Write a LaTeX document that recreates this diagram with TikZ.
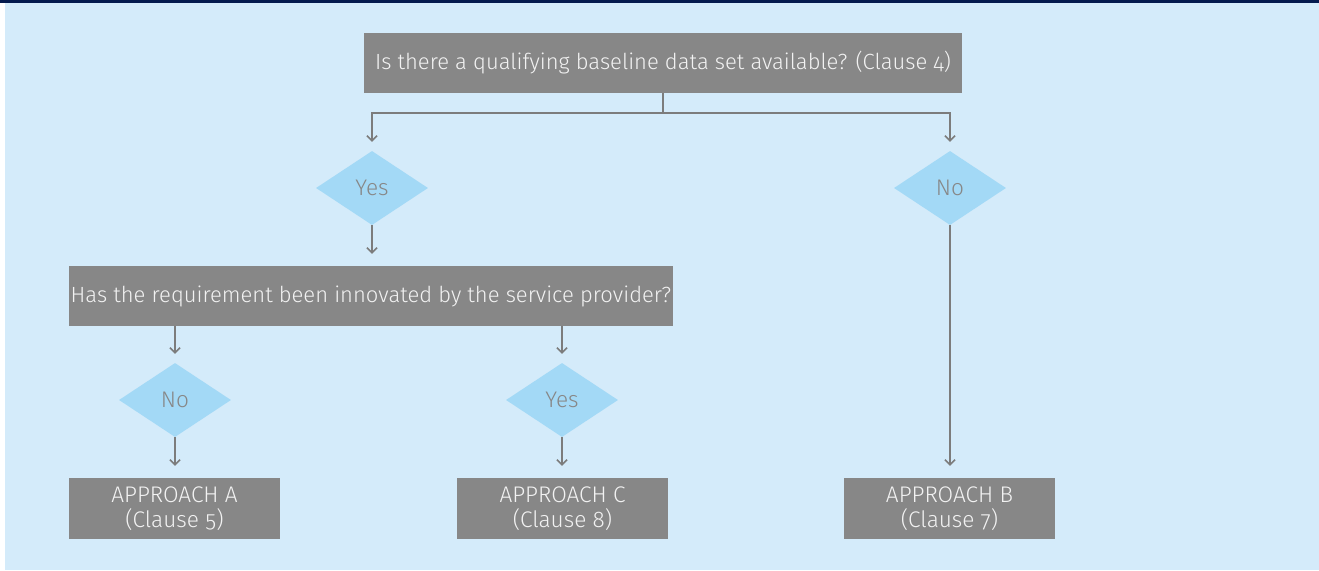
\documentclass[tikz,border=0pt]{standalone}
\usepackage{fontspec}
\setmainfont{Fira Sans Light}[Numbers=OldStyle]
\usetikzlibrary{shapes.geometric,arrows.meta}
\definecolor{navy}{HTML}{031A4E}
\definecolor{panel}{HTML}{D4EBFA}
\definecolor{boxgrey}{HTML}{878787}
\definecolor{decision}{HTML}{A3D9F6}
\definecolor{linegrey}{HTML}{7C7C7C}
\definecolor{boxtext}{HTML}{F2F2F2}
\tikzset{
  question/.style={fill=boxgrey, text=boxtext, minimum height=60pt, inner sep=0pt,
    font=\fontsize{22}{26}\selectfont},
  outcome/.style={fill=boxgrey, text=boxtext, minimum width=211pt, minimum height=61pt,
    inner sep=0pt, align=center, font=\fontsize{22.6}{25}\selectfont},
  choice/.style={diamond, fill=decision, text=boxgrey, minimum width=112pt,
    minimum height=74pt, inner sep=0pt, font=\fontsize{22.6}{26}\selectfont},
  flow/.style={draw=linegrey, line width=2pt,
    -{Straight Barb[length=5pt,width=10pt,line width=1.6pt]}},
  toshape/.style={flow, shorten >=9pt},
  tobox/.style={flow, shorten >=12pt},
}
\begin{document}
\begin{tikzpicture}[x=1pt,y=-1pt]
\useasboundingbox (0,0) rectangle (1319,570);
\fill[white] (0,0) rectangle (1319,570);
\fill[panel] (5,0) rectangle (1319,570);
\fill[navy] (0,0) rectangle (1319,3);

% questions
\node[question, minimum width=598pt] (q1) at (663,63)
  {Is there a qualifying baseline data set available? (Clause 4)};
\node[question, minimum width=604pt] (q2) at (371,296)
  {Has the requirement been innovated by the service provider?};

% decisions
\node[choice] (yes1) at (372,188) {Yes};
\node[choice] (no1) at (950,188) {No};
\node[choice] (no2) at (175,400) {No};
\node[choice] (yes2) at (562,400) {Yes};

% outcomes
\node[outcome] (appA) at (174.5,508.5) {APPROACH A\\(Clause 5)};
\node[outcome] (appC) at (562.5,508.5) {APPROACH C\\(Clause 8)};
\node[outcome] (appB) at (949.5,508.5) {APPROACH B\\(Clause 7)};

% connectors
\coordinate (split) at (663,113);
\draw[draw=linegrey, line width=2pt] (q1.south) -- (split);
\draw[toshape] (split) -| (yes1.north);
\draw[toshape] (split) -| (no1.north);
\draw[tobox] (yes1.south) -- (yes1.south |- q2.north);
\draw[toshape] (q2.south -| no2) -- (no2.north);
\draw[toshape] (q2.south -| yes2) -- (yes2.north);
\draw[tobox] (no2.south) -- (no2.south |- appA.north);
\draw[tobox] (yes2.south) -- (yes2.south |- appC.north);
\draw[tobox] (no1.south) -- (no1.south |- appB.north);
\end{tikzpicture}
\end{document}
